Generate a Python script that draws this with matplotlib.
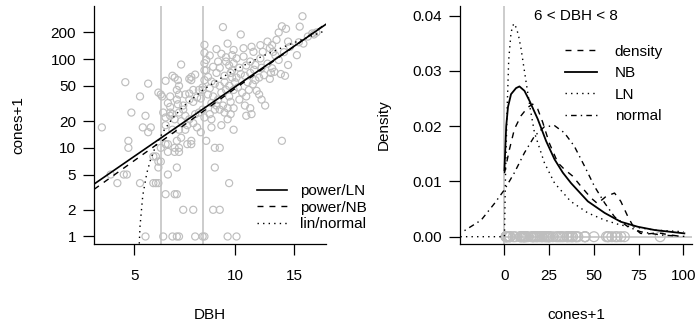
import matplotlib
matplotlib.use("Agg")
import matplotlib.pyplot as plt
from matplotlib.ticker import NullLocator

plt.rcParams['font.family'] = ['Liberation Sans', 'DejaVu Sans']
plt.rcParams['font.size'] = 11

GRAY = '#BEBEBE'

# --- fir data: DBH and cones+1
dbh = [4.0, 4.25, 4.45, 4.65, 4.75, 4.7, 4.8, 4.8, 4.9, 5.2, 5.2, 5.3, 5.4, 5.5, 5.5, 5.6, 5.4,
       5.7, 5.8, 5.9, 6.0, 5.9, 5.7, 5.8, 5.9, 6.3, 6.2, 6.6, 6.7, 6.7, 6.1, 6.5, 6.7, 6.8,
       6.3, 6.6, 6.8, 6.8, 6.6, 6.3, 6.2, 6.0, 6.7, 6.9, 6.5, 6.8, 7.1, 6.2,
       5.9, 6.0, 6.05, 6.2, 6.5, 6.6, 6.9, 6.75, 6.8, 6.7, 6.8, 6.7, 6.75, 7.3, 7.4, 7.4, 7.6,
       6.4, 6.4, 6.3, 6.4, 7.0, 7.3, 7.1, 7.5, 7.7, 7.9, 6.2, 6.5, 6.8, 7.1, 6.4, 7.5, 7.7,
       7.9, 7.3, 7.6, 7.8, 6.9, 7.2, 6.6, 7.0, 6.1, 7.3, 7.5, 7.8, 8.1, 8.1, 8.1, 8.1, 8.1,
       8.0, 8.0, 7.0, 7.5, 7.6, 8.0, 8.1, 8.0, 7.2, 7.4, 7.4,
       8.4, 8.7, 9.0, 9.3, 9.7, 8.1, 8.5, 8.5, 9.1, 9.5, 9.9, 8.2, 8.7, 9.0, 8.7, 9.6, 8.6,
       9.0, 9.5, 10.1, 8.2, 8.2, 8.6, 8.9, 9.4, 9.8, 9.9, 9.5, 9.2, 8.3, 8.5, 8.7, 8.4, 8.8,
       9.3, 9.8, 8.3, 8.6, 8.9, 9.1, 9.4, 9.6, 9.2, 8.8, 9.7, 9.9, 9.5, 8.5, 9.0, 9.3, 9.6,
       9.9, 9.7, 10.0, 8.4, 8.8, 9.1, 9.4, 9.0, 9.6, 9.9, 9.8,
       10.1, 10.6, 11.1, 11.5, 11.9, 12.5, 12.9, 10.4, 10.6, 11.2, 11.35, 11.9, 12.5, 12.9,
       12.7, 12.1, 13.0, 10.4, 10.7, 11.1, 11.8, 12.2, 12.7, 10.2, 10.5, 10.8, 11.0, 11.3,
       11.6, 10.3, 10.7, 11.1, 10.8, 11.2, 12.0, 12.3, 11.5, 12.0, 10.1, 10.3, 10.8, 11.4,
       13.8, 11.8, 10.9, 12.8,
       13.3, 13.5, 13.8, 14.2, 15.6, 15.9, 17.5, 17.0, 17.2, 14.4, 14.6, 15.5, 16.0, 13.5,
       14.4, 15.3, 13.1, 13.7, 14.1, 16.5, 14.0, 13.2]
cones = [17, 5, 4, 5, 5, 55, 12, 10, 25, 38, 4, 17, 23, 15, 53, 17, 1,
         8, 8, 7, 7, 6, 4, 4, 4, 5, 3, 3, 3, 6, 1, 1, 1, 1,
         9, 9, 9, 10, 10, 11, 11, 10, 12, 13, 16, 16, 16, 18,
         42, 40, 38, 57, 65, 62, 87, 58, 50, 45, 40, 35, 31, 60, 63, 58, 67,
         38, 29, 32, 23, 30, 35, 40, 33, 37, 36, 22, 24, 25, 23, 25, 19, 17,
         15, 21, 24, 25, 20, 18, 21, 27, 25, 41, 45, 45, 145, 118, 90, 75, 58,
         48, 45, 2, 2, 1, 1, 1, 27, 11, 11, 12,
         24, 27, 27, 25, 24, 22, 21, 17, 18, 21, 16, 12, 10, 10, 6, 4, 2,
         2, 1, 1, 98, 75, 82, 94, 94, 111, 127, 150, 230, 63, 56, 53, 47, 70,
         65, 62, 40, 38, 35, 42, 45, 38, 30, 30, 33, 28, 28, 32, 50, 55, 50,
         45, 70, 55, 110, 130, 115, 105, 80, 85, 90, 75,
         102, 107, 94, 86, 102, 89, 79, 190, 133, 138, 121, 144, 158, 144,
         133, 121, 121, 68, 65, 70, 62, 66, 60, 48, 42, 38, 45, 52,
         44, 35, 30, 28, 23, 24, 35, 30, 58, 80, 62, 80, 85, 76,
         12, 40, 55, 70,
         165, 200, 235, 220, 233, 305, 200, 195, 190, 158, 138, 155, 150, 98,
         86, 111, 72, 68, 65, 180, 120, 110]

# fitted curves, left panel
fit_dbh = [3.79, 18.7]
powLN_cones = [3.9, 248]
powNB_cones = [3.4, 252]
lin_dbh = [5.15, 5.2, 5.3, 5.45, 5.6, 5.8, 6.1, 6.5, 7, 8, 9, 10, 12, 14, 16, 18.7]
lin_cones = [0.54, 1.3, 2.9, 5.2, 7.5, 10.6, 15.3, 21.5, 29.2, 44.7, 60, 76, 107, 138, 169, 211]

# right panel densities
dens_x = [0, 2.8, 5.6, 9.3, 13, 15.8, 18.6, 21.4, 25, 29.8, 33.5, 38, 42.8, 48.4, 52,
          56.8, 61.5, 65, 69, 72.6, 76, 80, 85.7, 93, 100]
dens_y = [0.0115, 0.0158, 0.0195, 0.0219, 0.0234, 0.024, 0.0231, 0.0207, 0.017, 0.0134,
          0.0122, 0.011, 0.0091, 0.007, 0.006, 0.0073, 0.0079, 0.0064, 0.0036, 0.0015,
          0.0006, 0.0005, 0.0007, 0.0003, 0.0]
nb_x = [0, 0.5, 1, 2, 3.7, 6.5, 8.4, 11.2, 14, 18.6, 23.3, 28, 32.6, 37.2, 46.6, 56,
        65, 74.5, 84, 100.5]
nb_y = [0.012, 0.016, 0.02, 0.0235, 0.0258, 0.0269, 0.0272, 0.0264, 0.0246, 0.0213,
        0.0173, 0.014, 0.0116, 0.0097, 0.0064, 0.0043, 0.0027, 0.0018, 0.0012, 0.0006]
ln_x = [-24.6, 0, 0.6, 1.5, 2.4, 3.7, 5.2, 6.7, 8.0, 9.3, 10.7, 12.1, 14.4, 16.8, 22.3,
        28, 37, 46.6, 56, 65, 84, 100]
ln_y = [0, 0, 0.011, 0.023, 0.032, 0.037, 0.0386, 0.0378, 0.0362, 0.034, 0.031, 0.028,
        0.0232, 0.0188, 0.0134, 0.0097, 0.0064, 0.0043, 0.003, 0.0021, 0.0012, 0.0009]
norm_x = [-22.3, -13, -5.6, 0, 5.6, 11.2, 16.8, 22.3, 28, 33.5, 39, 44.7, 50.3, 56,
          61.5, 69, 76, 87.5, 100.5]
norm_y = [0.0011, 0.003, 0.006, 0.0085, 0.0116, 0.0152, 0.0182, 0.0199, 0.0201, 0.0188,
          0.0164, 0.0128, 0.0091, 0.0061, 0.0036, 0.0018, 0.0009, 0.0003, 0.00005]

DASH = (0, (4.3, 4.3))
DOT = (0, (1, 3))
DASHDOT = (0, (1, 3, 4, 3))

fig = plt.figure(figsize=(6.97, 3.33), dpi=100)
ax1 = fig.add_axes([0.1349, 0.2673, 0.3329, 0.7147])
ax2 = fig.add_axes([0.66, 0.2673, 0.3329, 0.7147])

# left panel
ax1.set_xscale('log')
ax1.set_yscale('log')
ax1.axvline(6, color=GRAY, lw=1.1)
ax1.axvline(8, color=GRAY, lw=1.1)
ax1.scatter(dbh, cones, s=26, facecolors='none', edgecolors=GRAY, linewidths=0.85)
ax1.plot(fit_dbh, powLN_cones, color='black', lw=1.2, label='power/LN')
ax1.plot(fit_dbh, powNB_cones, color='black', lw=1.0, linestyle=DASH, label='power/NB')
ax1.plot(lin_dbh, lin_cones, color='black', lw=1.0, linestyle=DOT, label='lin/normal')
ax1.set_xlim(3.79, 18.7)
ax1.set_ylim(0.823, 398)
ax1.xaxis.set_minor_locator(NullLocator())
ax1.yaxis.set_minor_locator(NullLocator())
ax1.set_xticks([5, 10, 15])
ax1.set_xticklabels(['5', '10', '15'])
yt = [1, 2, 5, 10, 20, 50, 100, 200]
ax1.set_yticks(yt)
ax1.set_yticklabels([str(v) for v in yt])
ax1.legend(loc='upper left', bbox_to_anchor=(0.703, 0.25), frameon=False,
           borderpad=0, borderaxespad=0, handlelength=1.96, handletextpad=0.85,
           labelspacing=0.15)

# right panel
sub = [c for d, c in zip(dbh, cones) if 6 < d < 8]
ax2.axvline(0, color=GRAY, lw=1.1)
ax2.plot([0, 104.8], [0, 0], color=GRAY, lw=1.1)
ax2.scatter(sub, [0] * len(sub), s=50, facecolors='none', edgecolors=GRAY, linewidths=0.9)
ax2.plot(dens_x, dens_y, color='black', lw=1.0, linestyle=DASH, label='density')
ax2.plot(nb_x, nb_y, color='black', lw=1.3, label='NB')
ax2.plot(ln_x, ln_y, color='black', lw=1.0, linestyle=DOT, label='LN')
ax2.plot(norm_x, norm_y, color='black', lw=1.0, linestyle=DASHDOT, label='normal')
ax2.text(40, 0.04, '6 < DBH < 8', ha='center', va='center')
ax2.set_xlim(-24.8, 104.8)
ax2.set_ylim(-0.00132, 0.04176)
ax2.set_xticks([0, 25, 50, 75, 100])
ax2.set_yticks([0, 0.01, 0.02, 0.03, 0.04])
ax2.set_yticklabels(['0.00', '0.01', '0.02', '0.03', '0.04'])
ax2.legend(loc='upper left', bbox_to_anchor=(0.4526, 0.838), frameon=False,
           borderpad=0, borderaxespad=0, handlelength=2.1, handletextpad=1.15,
           labelspacing=0.5)

for ax in (ax1, ax2):
    ax.spines['top'].set_visible(False)
    ax.spines['right'].set_visible(False)
    ax.spines['left'].set_linewidth(0.9)
    ax.spines['bottom'].set_linewidth(0.9)
    ax.tick_params(axis='x', direction='out', length=8, width=0.9, pad=10)
    ax.tick_params(axis='y', direction='out', length=8, width=0.9, pad=5)

fig.text(210 / 697, 1 - 315 / 333, 'DBH', ha='center', va='center')
fig.text(18 / 697, 1 - 125 / 333, 'cones+1', ha='center', va='center', rotation=90)
fig.text(576 / 697, 1 - 315 / 333, 'cones+1', ha='center', va='center')
fig.text(384 / 697, 1 - 125 / 333, 'Density', ha='center', va='center', rotation=90)

fig.savefig('out.png', dpi=100)
